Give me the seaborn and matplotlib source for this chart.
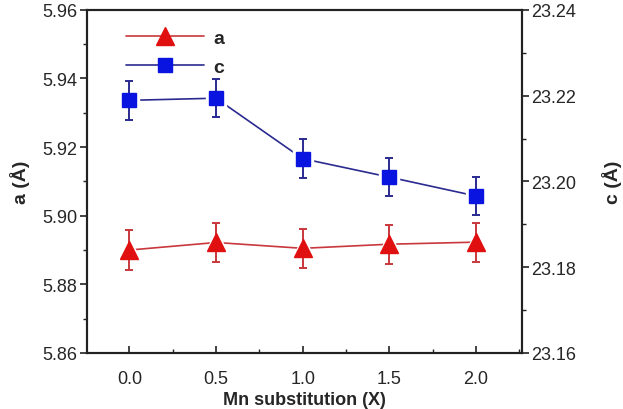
import numpy as np
import pandas as pd
import seaborn as sns
import matplotlib.pyplot as plt
from matplotlib.lines import Line2D
from matplotlib.ticker import MultipleLocator

# data
mn_x = [0.0, 0.5, 1.0, 1.5, 2.0]
a_vals = [5.8900, 5.8922, 5.8905, 5.8917, 5.8923]
a_err = [0.0057, 0.0057, 0.0057, 0.0057, 0.0057]
c_vals = [23.2189, 23.2194, 23.2053, 23.2010, 23.1966]
c_err = [0.0045, 0.0045, 0.0045, 0.0045, 0.0045]

df = pd.DataFrame({'x': mn_x, 'a': a_vals, 'c': c_vals})

sns.set_style('ticks')
plt.rcParams['font.family'] = ['Liberation Sans', 'DejaVu Sans']

red_line = '#c8383c'
red_mark = '#e01010'
blue_line = '#2a2a90'
blue_mark = '#0a14e0'

fig = plt.figure(figsize=(6.23, 4.10), dpi=100)
ax = fig.add_axes([0.1396, 0.1366, 0.698, 0.837])
ax2 = ax.twinx()

# a series (left axis)
sns.lineplot(data=df, x='x', y='a', ax=ax, color=red_line, lw=1.2, zorder=1)
ax.plot(df['x'], df['a'], ls='none', marker='^', ms=18, color='white', zorder=2)
ax.errorbar(df['x'], df['a'], yerr=a_err, fmt='none', ecolor=red_line,
            elinewidth=1.4, capsize=3, capthick=1.4, zorder=3)
ax.plot(df['x'], df['a'], ls='none', marker='^', ms=12.5, color=red_mark, zorder=4)

# c series (right axis)
sns.lineplot(data=df, x='x', y='c', ax=ax2, color=blue_line, lw=1.2, zorder=1)
ax2.plot(df['x'], df['c'], ls='none', marker='s', ms=15, color='white', zorder=2)
ax2.errorbar(df['x'], df['c'], yerr=c_err, fmt='none', ecolor=blue_line,
             elinewidth=1.4, capsize=3, capthick=1.4, zorder=3)
ax2.plot(df['x'], df['c'], ls='none', marker='s', ms=9.5, color=blue_mark, zorder=4)

ax.set_xlim(-0.245, 2.265)
ax.set_ylim(5.86, 5.96)
ax2.set_ylim(23.16, 23.24)

ax.xaxis.set_major_locator(MultipleLocator(0.5))
ax.xaxis.set_minor_locator(MultipleLocator(0.25))
ax.yaxis.set_major_locator(MultipleLocator(0.02))
ax.yaxis.set_minor_locator(MultipleLocator(0.01))
ax2.yaxis.set_major_locator(MultipleLocator(0.02))
ax2.yaxis.set_minor_locator(MultipleLocator(0.01))
ax.xaxis.set_major_formatter(plt.FormatStrFormatter('%.1f'))
ax.yaxis.set_major_formatter(plt.FormatStrFormatter('%.2f'))
ax2.yaxis.set_major_formatter(plt.FormatStrFormatter('%.2f'))

for a_ in (ax, ax2):
    a_.tick_params(axis='y', which='major', length=5, width=1.2, labelsize=13,
                   direction='out', pad=2, color='#222222')
    a_.tick_params(axis='y', which='minor', length=3, width=1.0, direction='out',
                   color='#222222')
    for s in a_.spines.values():
        s.set_visible(True)
        s.set_linewidth(1.5)
        s.set_color('#222222')
ax.tick_params(axis='x', which='major', length=5, width=1.2, labelsize=13,
               direction='in', pad=12, color='#222222')
ax.tick_params(axis='x', which='minor', length=3, width=1.0, direction='in',
               color='#222222')

ax.set_xlabel('Mn substitution (X)', fontsize=13, fontweight='bold', labelpad=3)
ax.set_ylabel('a (Å)', fontsize=14, fontweight='bold', labelpad=9)
ax2.set_ylabel('c (Å)', fontsize=14, fontweight='bold', labelpad=18)

handles = [
    Line2D([], [], color=red_line, lw=1.2, marker='^', ms=12.5,
           markerfacecolor=red_mark, markeredgecolor=red_mark),
    Line2D([], [], color=blue_line, lw=1.2, marker='s', ms=9.5,
           markerfacecolor=blue_mark, markeredgecolor=blue_mark),
]
leg = ax.legend(handles, ['a', 'c'], loc='upper left', bbox_to_anchor=(0.05, 0.995),
                frameon=False, handlelength=4.0, handletextpad=0.5, labelspacing=0.6,
                prop={'weight': 'bold', 'size': 14})

fig.savefig('out.png', dpi=100)
